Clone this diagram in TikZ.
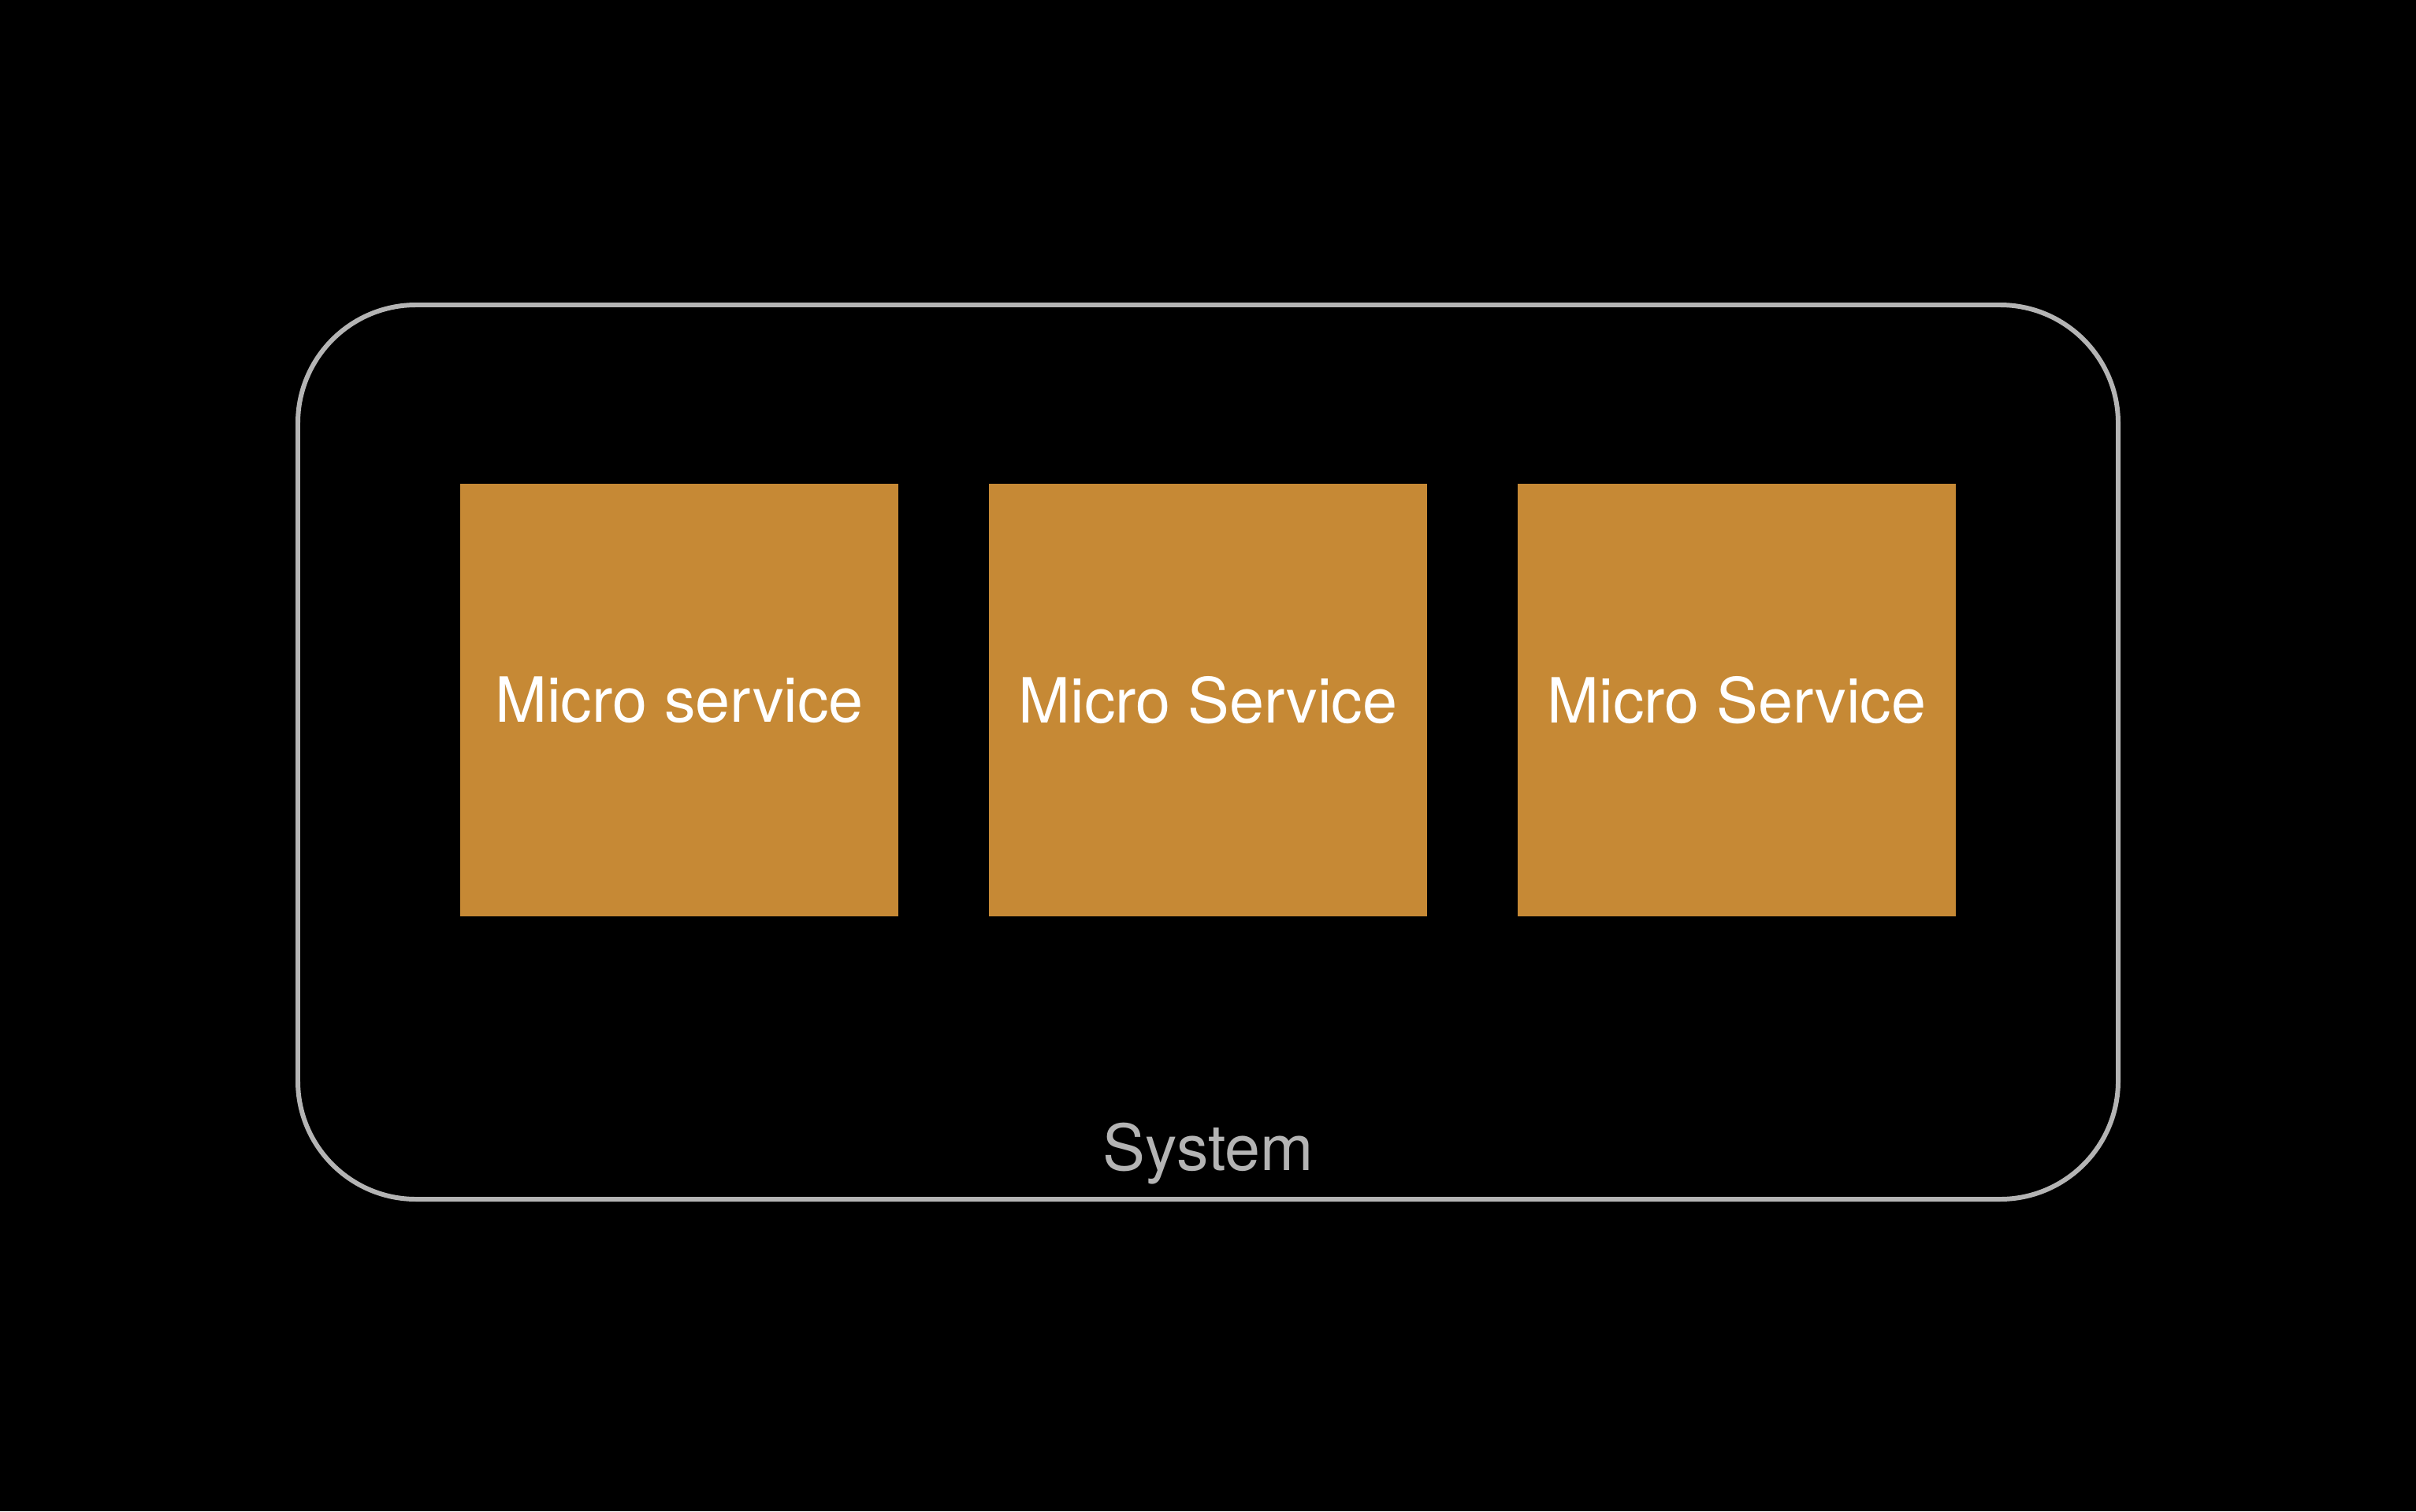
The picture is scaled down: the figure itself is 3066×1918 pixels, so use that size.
\documentclass[tikz,border=0pt]{standalone}
\usepackage{fontspec}
\setmainfont{TeX Gyre Heros}
\definecolor{boxfill}{RGB}{198,137,53}
\definecolor{edgegrey}{RGB}{180,180,180}
\tikzset{
  svcbox/.style={fill=boxfill, draw=none, inner sep=0pt, text=white,
    minimum width=55.6mm, minimum height=54.9mm,
    font=\fontsize{22.5}{26}\selectfont},
  sysframe/.style={draw=edgegrey, line width=1.7pt, rounded corners=15mm},
  syslabel/.style={text=edgegrey, font=\fontsize{23}{27}\selectfont}
}
\begin{document}
\begin{tikzpicture}[x=0.1mm, y=-0.1mm]
\fill[black] (0,0) rectangle (3066,1918);
\useasboundingbox (0,0) rectangle (3066,1918);
\draw[sysframe] (378,387) rectangle (2688,1522);
\node[svcbox] (s1) at (862,888.5) {Micro service};
\node[svcbox] (s2) at (1533,888.5) {Micro Service};
\node[svcbox] (s3) at (2204,888.5) {Micro Service};
\node[syslabel, anchor=base] (sys) at (1533,1485) {System};
\end{tikzpicture}
\end{document}
